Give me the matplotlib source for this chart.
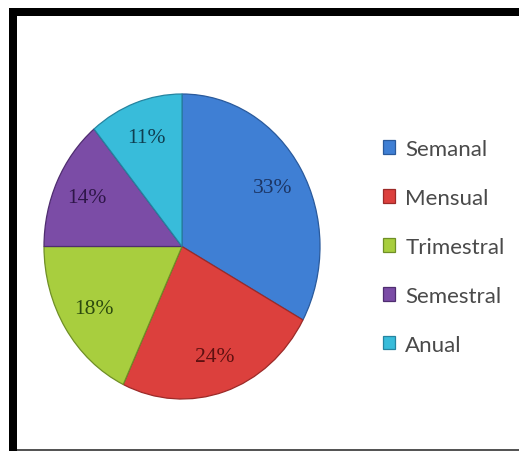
import matplotlib.pyplot as plt
from matplotlib.patches import Rectangle

# data
labels = ["Semanal", "Mensual", "Trimestral", "Semestral", "Anual"]
values = [33, 24, 18, 14, 11]
colors = ["#3f7fd4", "#dc403d", "#a8ce3e", "#7b4ca6", "#38bcda"]
edge_colors = ["#2a5a9c", "#9c2a28", "#6f8f26", "#4f2d70", "#2584a0"]
text_colors = ["#1c3564", "#5e1010", "#2c4a0e", "#2e1648", "#0f3e50"]

W, H = 519, 452
fig = plt.figure(figsize=(W / 100, H / 100), dpi=100)
fig.patch.set_facecolor("white")

# frame: thick black on left/top, thin gray at bottom
fig.patches.append(Rectangle((9 / W, 0), 8 / W, (H - 9) / H, transform=fig.transFigure,
                             facecolor="black", edgecolor="none"))
fig.patches.append(Rectangle((9 / W, (H - 17) / H), (W - 9) / W, 8 / H, transform=fig.transFigure,
                             facecolor="black", edgecolor="none"))
fig.patches.append(Rectangle((17 / W, 0), (W - 17) / W, 2 / H, transform=fig.transFigure,
                             facecolor="#555555", edgecolor="none"))

# pie axes (slightly taller than wide, like the original)
left, right, top, bottom = 44, 320, 95, 400
ax = fig.add_axes([left / W, (H - bottom) / H, (right - left) / W, (bottom - top) / H])
wedges, texts, autotexts = ax.pie(values, colors=colors, startangle=90, counterclock=False,
                                  autopct="%1.0f%%", pctdistance=0.76,
                                  wedgeprops=dict(linewidth=0.9))
for w, ec in zip(wedges, edge_colors):
    w.set_edgecolor(ec)
for t, c in zip(autotexts, text_colors):
    t.set_color(c)
    t.set_fontsize(15.5)
    t.set_family("Liberation Serif")
ax.set_aspect("auto")
ax.set_xlim(-1, 1)
ax.set_ylim(-1, 1)

# legend
leg = fig.legend(wedges, labels, loc="upper left", bbox_to_anchor=(363 / W, (H - 120) / H),
                 frameon=False, handlelength=0.55, handleheight=0.55, handletextpad=0.45,
                 labelspacing=1.3, prop=dict(family="Lato", size=16))
for t in leg.get_texts():
    t.set_color("#4a4a4a")

fig.savefig("out.png", dpi=100)
